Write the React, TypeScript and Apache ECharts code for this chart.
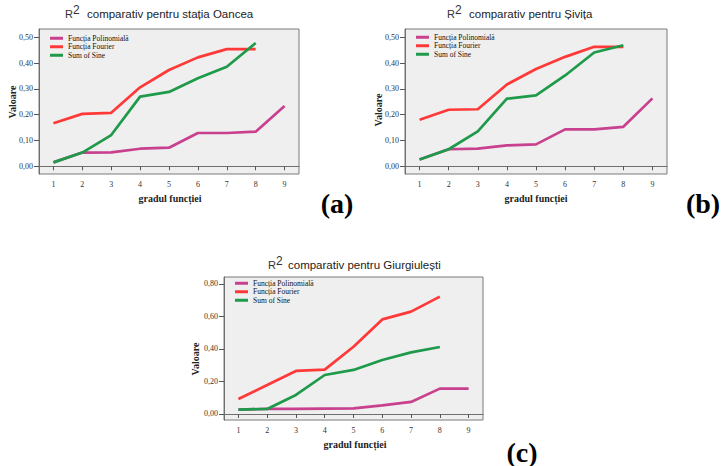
import React, { useEffect, useRef } from 'react';
import * as echarts from 'echarts';

const categories = ['1', '2', '3', '4', '5', '6', '7', '8', '9'];
const seriesNames = ['Funcția Polinomială', 'Funcția Fourier', 'Sum of Sine'];
const seriesColors = ['#C8408E', '#FF3838', '#1E9A4A'];

const oanceaPoly = [0.015, 0.053, 0.054, 0.068, 0.072, 0.129, 0.129, 0.134, 0.234];
const oanceaFourier = [0.167, 0.203, 0.207, 0.306, 0.373, 0.422, 0.454, 0.454, null];
const oanceaSine = [0.015, 0.053, 0.121, 0.27, 0.288, 0.341, 0.386, 0.478, null];

const sivitaPoly = [0.026, 0.066, 0.068, 0.081, 0.085, 0.143, 0.143, 0.153, 0.263];
const sivitaFourier = [0.18, 0.219, 0.221, 0.317, 0.377, 0.424, 0.463, 0.463, null];
const sivitaSine = [0.026, 0.066, 0.135, 0.262, 0.275, 0.352, 0.441, 0.469, null];

const giurPoly = [0.027, 0.031, 0.031, 0.033, 0.035, 0.053, 0.074, 0.156, 0.156];
const giurFourier = [0.092, 0.178, 0.265, 0.273, 0.414, 0.582, 0.63, 0.722, null];
const giurSine = [0.027, 0.031, 0.117, 0.24, 0.271, 0.332, 0.379, 0.412, null];

const yTicksTop = [0, 0.1, 0.2, 0.3, 0.4, 0.5];
const yTicksBottom = [0, 0.2, 0.4, 0.6, 0.8];

const stations = ['stația Oancea', 'Șivița', 'Giurgiulești'];
const panelLetters = ['(a)', '(b)', '(c)'];

const SERIF = "Liberation Serif, Times New Roman, serif";
const SANS = "Liberation Sans, Arial, sans-serif";

const fmt = (v: number) => v.toFixed(2).replace('.', ',');

export default function App() {
  const ref = useRef<HTMLDivElement>(null);

  useEffect(() => {
    if (!ref.current) return;
    const chart = echarts.init(ref.current, null, { renderer: 'svg' });

    const grids = [
      { left: 39, top: 29, width: 260, height: 145 },
      { left: 405, top: 29, width: 262, height: 145 },
      { left: 224, top: 277, width: 259, height: 143 },
    ];
    const yRanges = [
      { min: -0.03, max: 0.532, ticks: yTicksTop },
      { min: -0.03, max: 0.532, ticks: yTicksTop },
      { min: -0.037, max: 0.843, ticks: yTicksBottom },
    ];
    const data = [
      [oanceaPoly, oanceaFourier, oanceaSine],
      [sivitaPoly, sivitaFourier, sivitaSine],
      [giurPoly, giurFourier, giurSine],
    ];
    const titlePos = [
      { r: 65, two: 73, t: 87, y: 13.5 },
      { r: 447, two: 455, t: 469, y: 13.5 },
      { r: 268, two: 276, t: 288, y: 264.5 },
    ];
    const yNamePos = [
      { x: 12, y: 102 },
      { x: 378, y: 110 },
      { x: 195, y: 359 },
    ];
    const xNamePos = [
      { x: 170, y: 198 },
      { x: 536, y: 198 },
      { x: 355, y: 444 },
    ];
    const letterPos = [
      { x: 337, y: 203 },
      { x: 703, y: 203 },
      { x: 522, y: 452 },
    ];
    const legendPos = [
      { left: 50, top: 34 },
      { left: 416, top: 33 },
      { left: 235, top: 279 },
    ];

    const txt = (x: number, y: number, text: string, size: number, family: string, weight: string, fill: string, align: string, rotation = 0) => ({
      type: 'text',
      x,
      y,
      rotation,
      style: { text, fontSize: size, fontFamily: family, fontWeight: weight, fill, align, verticalAlign: 'middle' },
    });

    const graphic: any[] = [];
    for (let i = 0; i < 3; i++) {
      const tp = titlePos[i];
      graphic.push(
        txt(tp.r, tp.y, 'R', 11, SANS, 'normal', '#333', 'left'),
        txt(tp.two, tp.y - 3.5, '2', 12, SANS, 'normal', '#333', 'left'),
        txt(tp.t, tp.y, `comparativ pentru ${stations[i]}`, 11.5, SANS, 'normal', '#222', 'left'),
        txt(yNamePos[i].x, yNamePos[i].y, 'Valoare', 10, SERIF, 'bold', '#222', 'center', Math.PI / 2),
        txt(xNamePos[i].x, xNamePos[i].y, 'gradul funcției', 10, SERIF, 'bold', '#222', 'center'),
        txt(letterPos[i].x, letterPos[i].y, panelLetters[i], 28, SERIF, 'bold', '#000', 'center'),
      );
    }

    const series: any[] = [];
    for (let i = 0; i < 3; i++) {
      for (let s = 0; s < 3; s++) {
        series.push({
          type: 'line',
          name: seriesNames[s],
          xAxisIndex: i,
          yAxisIndex: i,
          data: data[i][s],
          showSymbol: false,
          symbol: 'none',
          connectNulls: false,
          z: 2 + s,
          lineStyle: { width: 2.7, color: seriesColors[s] },
          itemStyle: { color: seriesColors[s] },
        });
      }
    }

    const option: any = {
      animation: false,
      backgroundColor: '#ffffff',
      grid: grids.map((g) => ({
        ...g,
        show: true,
        backgroundColor: '#EFEFEF',
        borderColor: '#7a7a7a',
        borderWidth: 1,
        containLabel: false,
      })),
      xAxis: grids.map((_, i) => ({
        type: 'category',
        gridIndex: i,
        data: categories,
        boundaryGap: true,
        axisLine: { show: true, lineStyle: { color: '#6f6f6f', width: 1 } },
        axisTick: { show: true, alignWithLabel: true, length: 4, lineStyle: { color: '#555' } },
        axisLabel: { margin: 6, fontSize: 8, fontFamily: SERIF, color: '#333' },
        splitLine: { show: false },
      })),
      yAxis: grids.map((_, i) => ({
        type: 'value',
        gridIndex: i,
        min: yRanges[i].min,
        max: yRanges[i].max,
        axisLine: { show: true, lineStyle: { color: '#6f6f6f', width: 1 } },
        axisTick: { show: true, length: 5, customValues: yRanges[i].ticks, lineStyle: { color: '#555' } },
        axisLabel: {
          margin: 6,
          fontSize: 8,
          fontFamily: SERIF,
          color: '#333',
          customValues: yRanges[i].ticks,
          formatter: (v: number) => fmt(v),
        },
        splitLine: { show: false },
      })),
      legend: legendPos.map((p) => ({
        orient: 'vertical',
        left: p.left,
        top: p.top,
        padding: 0,
        itemGap: 0,
        itemWidth: 13,
        itemHeight: 3,
        icon: 'rect',
        selectedMode: false,
        data: seriesNames,
        textStyle: { fontSize: 7.5, lineHeight: 8.5, fontFamily: SERIF, color: '#111' },
      })),
      graphic,
      series,
    };

    chart.setOption(option);
    return () => chart.dispose();
  }, []);

  return (
    <div
      ref={ref}
      style={{ position: 'fixed', left: 0, top: 0, width: 725, height: 466, background: '#fff' }}
    />
  );
}
